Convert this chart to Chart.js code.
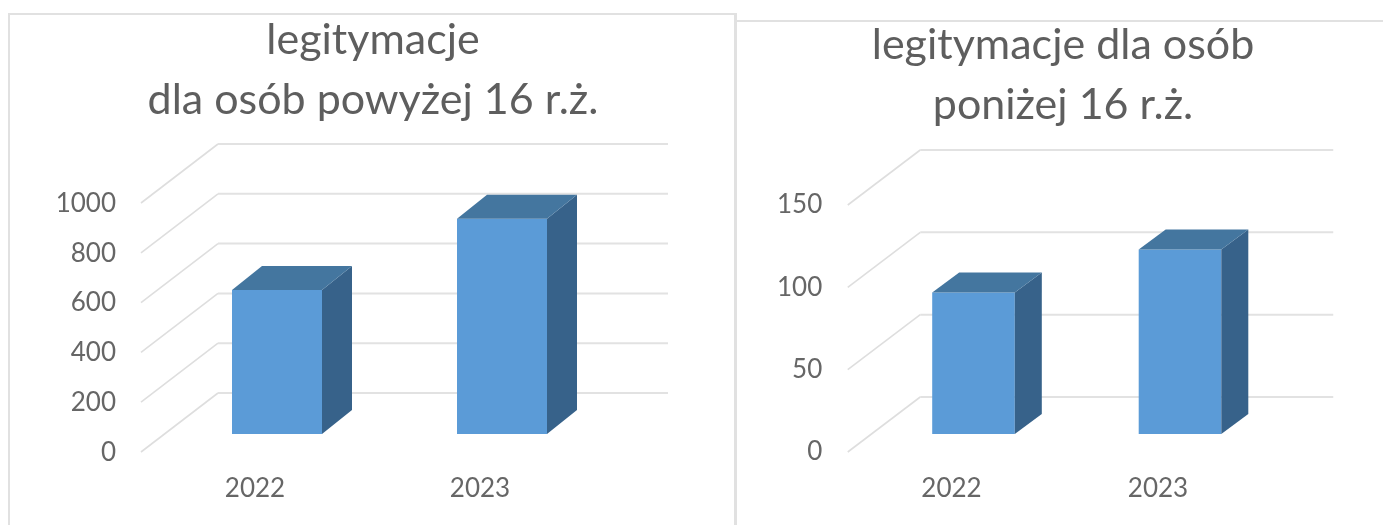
<!DOCTYPE html>
<html lang="pl">
<head>
<meta charset="utf-8">
<style>
html,body{margin:0;padding:0;background:#fff;width:1383px;height:525px;overflow:hidden}
canvas{position:absolute;top:0}
.f{position:absolute;background:#e1e1e1}
.w{position:absolute;top:0;height:525px;filter:blur(0.5px)}
</style>
<script src="https://cdn.jsdelivr.net/npm/chart.js@4"></script>
</head>
<body>
<div class="f" style="left:8px;top:13px;width:2px;height:512px"></div>
<div class="f" style="left:8px;top:13px;width:726px;height:2px"></div>
<div class="f" style="left:734px;top:13px;width:3px;height:512px"></div>
<div class="f" style="left:737px;top:20px;width:646px;height:2px"></div>
<div class="w" style="left:8px;width:730px"><canvas id="c1" style="left:0"></canvas></div>
<div class="w" style="left:743px;width:640px"><canvas id="c2" style="left:0"></canvas></div>
<script>
const categories = ["2022", "2023"];
const valuesOver16 = [578, 864];
const valuesUnder16 = [86, 112];
const titleOver16 = ["legitymacje", "dla osób powyżej 16 r.ż."];
const titleUnder16 = ["legitymacje dla osób", "poniżej 16 r.ż."];

const FONT = "Lato, 'Open Sans', sans-serif";
const TEXT = "#666666";

const depth3d = {
  id: "depth3d",
  afterLayout(chart) {
    // centre the title over the whole canvas, not only the padded box
    chart.titleBlock.left = 0;
    chart.titleBlock.right = chart.width;
  },
  beforeDatasetsDraw(chart, args, o) {
    const {ctx, chartArea: a, scales: {y}} = chart;
    ctx.save();
    ctx.lineCap = "butt";
    y.ticks.forEach(t => {
      const py = y.getPixelForValue(t.value);
      ctx.strokeStyle = "#dedede";
      ctx.lineWidth = 1.6;
      ctx.beginPath();
      ctx.moveTo(a.left + o.frontDx, py + o.frontDy);
      ctx.lineTo(a.left + o.backDx, py + o.backDy);
      ctx.stroke();
      ctx.lineWidth = 2;
      ctx.strokeStyle = "#e2e2e2";
      ctx.beginPath();
      ctx.moveTo(a.left + o.backDx, py + o.backDy);
      ctx.lineTo(a.right + o.backDx, py + o.backDy);
      ctx.stroke();
    });
    ctx.restore();
  },
  afterDatasetsDraw(chart, args, o) {
    const {ctx} = chart;
    ctx.save();
    chart.getDatasetMeta(0).data.forEach(b => {
      const l = b.x - b.width / 2, r = b.x + b.width / 2, t = b.y, s = b.base;
      ctx.fillStyle = "#37628a";
      ctx.beginPath();
      ctx.moveTo(r, t); ctx.lineTo(r + o.barDx, t + o.barDy);
      ctx.lineTo(r + o.barDx, s + o.barDy); ctx.lineTo(r, s);
      ctx.closePath(); ctx.fill();
      ctx.fillStyle = "#44769f";
      ctx.beginPath();
      ctx.moveTo(l, t); ctx.lineTo(l + o.barDx, t + o.barDy);
      ctx.lineTo(r + o.barDx, t + o.barDy); ctx.lineTo(r, t);
      ctx.closePath(); ctx.fill();
    });
    ctx.restore();
  }
};

function build(id, w, title, values, cfg) {
  const el = document.getElementById(id);
  el.width = w; el.height = 525;
  el.style.width = w + "px"; el.style.height = "525px";
  return new Chart(el, {
    type: "bar",
    plugins: [depth3d],
    data: {labels: categories, datasets: [{
      data: values, backgroundColor: "#5b9bd7", borderWidth: 0,
      barPercentage: 0.4, categoryPercentage: 1
    }]},
    options: {
      responsive: false, animation: false,
      layout: {padding: {left: 0, top: 0, right: cfg.padRight, bottom: 0}},
      plugins: {
        legend: {display: false}, tooltip: {enabled: false},
        title: {display: true, text: title, color: "#5e5e5e",
          font: {family: FONT, size: 43, weight: "normal", lineHeight: "60px"},
          padding: {top: cfg.titleTop, bottom: cfg.titleBottom}},
        depth3d: cfg.depth
      },
      scales: {
        x: {
          grid: {display: false, drawTicks: false}, border: {display: false},
          afterFit: s => { s.height = 91; },
          ticks: {color: TEXT, font: {family: FONT, size: 26}, padding: 39, labelOffset: -22, maxRotation: 0}
        },
        y: {
          min: 0, max: cfg.max,
          grid: {display: false, drawTicks: false}, border: {display: false},
          afterFit: s => { s.width = cfg.axisWidth; },
          ticks: {color: TEXT, font: {family: FONT, size: 26}, stepSize: cfg.step, padding: cfg.tickPad,
            labelOffset: cfg.labelOffset, format: {useGrouping: false}}
        }
      }
    }
  });
}

build("c1", 730, titleOver16, valuesOver16, {
  padRight: 123.5, titleTop: 10, titleBottom: 55, max: 1000, step: 200,
  axisWidth: 156.5, tickPad: 48.5, labelOffset: 18.5,
  depth: {frontDx: -23.5, frontDy: 18, backDx: 53.5, backDy: -41, barDx: 30, barDy: -24}
});
build("c2", 640, titleUnder16, valuesUnder16, {
  padRight: 99.75, titleTop: 15, titleBottom: 52, max: 150, step: 50,
  axisWidth: 127.25, tickPad: 48, labelOffset: 18,
  depth: {frontDx: -22.5, frontDy: 18, backDx: 50, backDy: -37, barDx: 27, barDy: -20}
});
</script>
</body>
</html>
